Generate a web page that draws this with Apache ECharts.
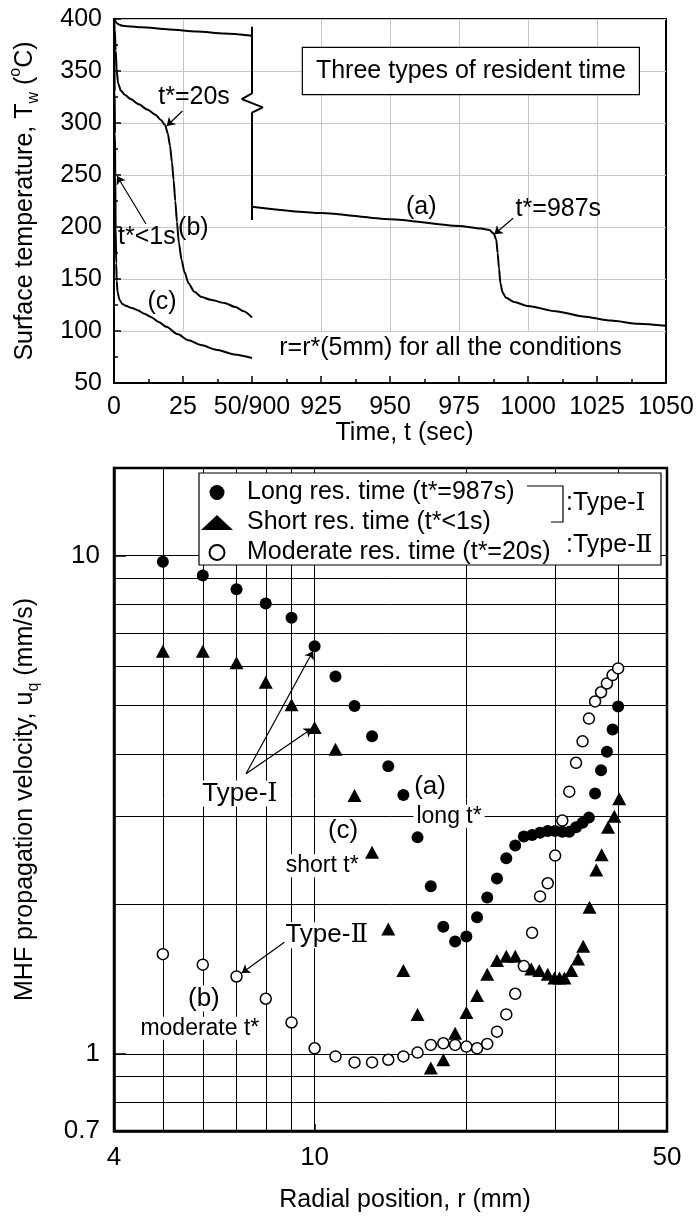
<!DOCTYPE html>
<html>
<head>
<meta charset="utf-8">
<script src="https://cdn.jsdelivr.net/npm/echarts@6.0.0/dist/echarts.min.js"></script>
<style>
html,body{margin:0;padding:0;background:#fff;}
#chart{width:699px;height:1218px;}
</style>
</head>
<body>
<div id="chart"></div>
<script>
// ================= TOP PANEL: surface temperature vs time =================
// curve (a): long residence time, left part (0-50 s) and right part (900-1050 s)
const curveA1Time = [0, 0.5, 1, 2, 3, 5, 10, 20, 30, 40, 50];
const curveA1Temp = [400, 398, 396, 394.5, 393.5, 393, 392, 390, 388, 386, 384];
const curveA2Time = [900, 925, 950, 975, 983, 986, 987.5, 988.5, 989, 989.5, 990, 990.8, 992, 995, 1000, 1010, 1020, 1030, 1040, 1050];
const curveA2Temp = [219.5, 213.5, 207.5, 201, 198.5, 197, 194, 188, 175, 160, 146, 137, 132, 128, 124, 119, 114, 110, 107, 105];
// curve (b): moderate residence time
const curveBTime = [0, 0.3, 0.6, 1, 1.5, 2.5, 4, 6, 9, 12, 15, 17, 18.5, 19.5, 20.3, 21, 21.6, 22.2, 22.8, 23.5, 24.5, 25.5, 27, 29, 31.5, 35, 40, 44, 47, 50];
const curveBTemp = [400, 390, 370, 350, 338, 331, 327, 323, 318, 313, 308, 303, 298, 290, 278, 262, 245, 225, 205, 185, 168, 157, 146, 138, 133, 130, 127, 123, 119, 113];
// curve (c): short residence time
const curveCTime = [0, 0.15, 0.25, 0.35, 0.45, 0.6, 0.8, 1, 1.3, 2, 3, 4.5, 6.5, 8.6, 11, 13.4, 16, 19, 23, 27, 31.5, 37, 43.6, 50];
const curveCTemp = [400, 370, 330, 290, 250, 200, 165, 148, 137, 130, 126, 124, 122, 120, 116.5, 113.5, 109, 104, 97, 91, 86.5, 82, 77.5, 74];
// axis-break mark drawn at the 50/900 junction (axis units, temperature)
const breakMarkAxis = [50, 50, 46.3, 53.9, 50, 50];
const breakMarkTemp = [392.6, 328.5, 323, 315, 310, 206.7];
// tick labels of the broken time axis
const topTimeTickLabels = ['0', '25', '50/900', '925', '950', '975', '1000', '1025', '1050'];
const topGridTimes = [25, 925, 950, 975, 1000, 1025];

// ================= BOTTOM PANEL: MHF propagation velocity =================
const rLong = [5, 6, 7, 8, 9, 10, 11, 12, 13, 14, 15, 16, 17, 18, 19, 20, 21, 22, 23, 24, 25, 26, 27, 28, 29, 30, 31, 32, 33, 34, 35, 36, 37, 38, 39, 40];
const vLong = [9.73, 9.13, 8.56, 8.02, 7.51, 6.58, 5.72, 4.99, 4.34, 3.78, 3.31, 2.72, 2.17, 1.80, 1.68, 1.72, 1.88, 2.06, 2.25, 2.47, 2.62, 2.73, 2.75, 2.78, 2.80, 2.80, 2.79, 2.79, 2.85, 2.91, 2.98, 3.33, 3.71, 4.04, 4.48, 4.98];
const rShort = [5, 6, 7, 8, 9, 10, 11, 12, 13, 14, 15, 16, 17, 18, 19, 20, 21, 22, 23, 24, 25, 26.9, 27.9, 29.0, 29.9, 30.6, 31.3, 32.3, 33.3, 34.1, 35.1, 36.2, 37.1, 38.2, 39.3, 40.2];
const vShort = [6.43, 6.43, 6.10, 5.57, 5.02, 4.52, 4.09, 3.30, 2.54, 1.78, 1.47, 1.20, 0.937, 0.973, 1.10, 1.21, 1.31, 1.445, 1.54, 1.57, 1.57, 1.48, 1.47, 1.445, 1.42, 1.42, 1.42, 1.47, 1.55, 1.645, 1.97, 2.34, 2.51, 2.85, 3.0, 3.25];
const rMod = [5, 6, 7, 8, 9, 10, 11, 12, 13, 14, 15, 16, 17, 18, 19, 20, 21, 22, 23, 24, 25, 26, 27, 28, 29, 30, 31, 32, 33, 34, 35, 36, 37, 38, 39, 40];
const vMod = [1.585, 1.51, 1.43, 1.29, 1.156, 1.026, 0.988, 0.961, 0.961, 0.973, 0.988, 1.006, 1.042, 1.05, 1.042, 1.034, 1.026, 1.047, 1.108, 1.20, 1.32, 1.50, 1.75, 2.07, 2.20, 2.50, 2.94, 3.36, 3.84, 4.24, 4.71, 5.10, 5.32, 5.54, 5.76, 5.94];
const gridR = [5, 6, 7, 8, 9, 10, 20, 30, 40];
const gridV = [0.8, 0.9, 1, 2, 3, 4, 5, 6, 7, 8, 9, 10];
const seriesNames = ['Long res. time (t*=987s)', 'Short res. time (t*<1s)', 'Moderate res. time (t*=20s)'];

// ================= annotations =================
const topNotes = [
  { text: 't*=20s', t: 29.0, T: 324.5 },
  { text: 't*<1s', t: 11.9, T: 190.7 },
  { text: '(b)', t: 28.75, T: 199 },
  { text: '(c)', t: 17.4, T: 128.2 },
  { text: '(a)', t: 961.3, T: 219.5 },
  { text: 't*=987s', t: 1011, T: 217.3 },
  { text: 'r=r*(5mm) for all the conditions', t: 971.9, T: 83.7 }
];
const topBox = { text: 'Three types of resident time', t: 979.3, T: 350 };
const topArrows = [
  { from: [24.8, 311.5], to: [19.1, 297.1] },
  { from: [11.6, 202.9], to: [1.1, 249] },
  { from: [994.6, 208.4], to: [987.8, 193] }
];
const bottomNotes = [
  { text: 'Type-\u2160', r: 7.11, v: 3.33, big: true },
  { text: '(c)', r: 11.39, v: 2.80, big: true },
  { text: 'short t*', r: 10.35, v: 2.385, big: false },
  { text: '(a)', r: 16.94, v: 3.44, big: true },
  { text: 'long t*', r: 18.48, v: 3.00, big: false },
  { text: '(b)', r: 6.03, v: 1.292, big: true },
  { text: 'moderate t*', r: 5.92, v: 1.126, big: false },
  { text: 'Type-\u2161', r: 10.57, v: 1.731, big: true }
];
const bottomArrows = [
  { from: [7.31, 3.65], to: [9.93, 6.44] },
  { from: [7.31, 3.65], to: [9.88, 4.50] },
  { from: [8.71, 1.675], to: [7.17, 1.453] }
];

// ================= chart =================
const FONT = '"Liberation Sans", Arial, Helvetica, "DejaVu Serif", sans-serif';
const toAxisTime = t => (t <= 50 ? t : t - 850);
const zip = (a, b, f) => a.map((x, i) => [f ? f(x) : x, b[i]]);

const chart = echarts.init(document.getElementById('chart'), null, { renderer: 'canvas', width: 699, height: 1218 });

const lineBase = {
  type: 'line', xAxisIndex: 0, yAxisIndex: 0, showSymbol: false, symbol: 'none',
  smooth: 0.25, smoothMonotone: 'x',
  lineStyle: { color: '#000', width: 2 }, z: 3, silent: true
};
const blackTick = { color: '#000', width: 1.5 };

const option = {
  animation: false,
  backgroundColor: '#fff',
  textStyle: { fontFamily: FONT, color: '#000' },
  grid: [
    { left: 113, top: 19, width: 553, height: 364, show: true, borderColor: '#000', borderWidth: 2, backgroundColor: 'rgba(0,0,0,0)' },
    { left: 114, top: 468, width: 553, height: 670, show: true, borderColor: '#000', borderWidth: 2.5, backgroundColor: 'rgba(0,0,0,0)' }
  ],
  xAxis: [
    {
      gridIndex: 0, type: 'value', min: 0, max: 200, interval: 25,
      axisLine: { show: true, onZero: false, lineStyle: { color: '#000', width: 2 } },
      axisTick: { show: true, inside: true, length: 7, lineStyle: blackTick },
      minorTick: { show: true, splitNumber: 2, length: 4, lineStyle: blackTick },
      axisLabel: { fontSize: 25, color: '#000', margin: 12, fontFamily: FONT,
        formatter: v => topTimeTickLabels[Math.round(v / 25)] },
      splitLine: { show: false },
      name: 'Time, t (sec)', nameLocation: 'middle', nameGap: 27,
      nameTextStyle: { fontSize: 25, color: '#000', fontFamily: FONT, padding: [0, 0, 0, 29] }
    },
    {
      gridIndex: 1, type: 'log', logBase: 10, min: 4, max: 50,
      axisLine: { show: true, onZero: false, lineStyle: { color: '#000', width: 2.5 } },
      axisTick: { show: true, inside: true, length: 7, lineStyle: blackTick },
      axisLabel: { fontSize: 26, color: '#000', margin: 14, fontFamily: FONT, showMinLabel: true, showMaxLabel: true,
        formatter: v => String(+Number(v).toPrecision(3)) },
      splitLine: { show: false },
      name: 'Radial position, r (mm)', nameLocation: 'middle', nameGap: 57,
      nameTextStyle: { fontSize: 25, color: '#000', fontFamily: FONT, padding: [0, 0, 0, 29] }
    }
  ],
  yAxis: [
    {
      gridIndex: 0, type: 'value', min: 50, max: 400, interval: 50,
      axisLine: { show: true, onZero: false, lineStyle: { color: '#000', width: 2 } },
      axisTick: { show: true, inside: true, length: 7, lineStyle: blackTick },
      minorTick: { show: true, splitNumber: 2, length: 4, lineStyle: blackTick },
      axisLabel: { fontSize: 25, color: '#000', margin: 12, fontFamily: FONT },
      splitLine: { show: true, lineStyle: { color: '#c8c8c8', width: 1 } },
      name: 'Surface temperature, T{s|w} ({u|o}C)', nameLocation: 'middle', nameGap: 72, nameRotate: 90,
      nameTextStyle: { fontSize: 25, color: '#000', fontFamily: FONT, lineHeight: 34,
        rich: {
          s: { fontSize: 16, lineHeight: 16, verticalAlign: 'bottom', fontFamily: FONT },
          u: { fontSize: 16, lineHeight: 16, verticalAlign: 'top', fontFamily: FONT }
        } }
    },
    {
      gridIndex: 1, type: 'log', logBase: 10, min: 0.7, max: 15,
      axisLine: { show: true, onZero: false, lineStyle: { color: '#000', width: 2.5 } },
      axisTick: { show: true, inside: true, length: 12, lineStyle: blackTick },
      axisLabel: { fontSize: 26, color: '#000', margin: 14, fontFamily: FONT, showMinLabel: true, showMaxLabel: false,
        formatter: v => String(+Number(v).toPrecision(3)) },
      splitLine: { show: false },
      name: 'MHF propagation velocity, u{s|q} (mm/s)', nameLocation: 'middle', nameGap: 72, nameRotate: 90,
      nameTextStyle: { fontSize: 25, color: '#000', fontFamily: FONT, lineHeight: 34,
        rich: {
          s: { fontSize: 16, lineHeight: 16, verticalAlign: 'bottom', fontFamily: FONT }
        } }
    }
  ],
  legend: {
    data: seriesNames, orient: 'vertical', left: 196, top: 473,
    itemWidth: 32, itemHeight: 15, itemGap: 1, selectedMode: false, z: 10,
    textStyle: { fontSize: 25, color: '#000', fontFamily: FONT, lineHeight: 29, padding: [0, 0, 0, 9] }
  },
  graphic: [
    { type: 'rect', shape: { x: 199, y: 473, width: 462, height: 92 }, style: { fill: '#fff', stroke: '#000', lineWidth: 1.2 }, z: 3, silent: true },
    { type: 'polyline', shape: { points: [[527, 486], [563, 486], [563, 522], [551, 522]] }, style: { stroke: '#000', lineWidth: 1.2, fill: null }, z: 11, silent: true },
    { type: 'text', x: 566, y: 503, style: { text: ':Type-\u2160', font: '25px ' + FONT, fill: '#000', textVerticalAlign: 'middle', verticalAlign: 'middle' }, z: 11, silent: true },
    { type: 'text', x: 566, y: 545, style: { text: ':Type-\u2161', font: '25px ' + FONT, fill: '#000', textVerticalAlign: 'middle', verticalAlign: 'middle' }, z: 11, silent: true }
  ],
  series: [
    Object.assign({}, lineBase, { name: 'a1', data: zip(curveA1Time, curveA1Temp, toAxisTime) }),
    Object.assign({}, lineBase, { name: 'a2', data: zip(curveA2Time, curveA2Temp, toAxisTime) }),
    Object.assign({}, lineBase, { name: 'b', data: zip(curveBTime, curveBTemp, toAxisTime) }),
    Object.assign({}, lineBase, { name: 'c', data: zip(curveCTime, curveCTemp, toAxisTime) }),
    Object.assign({}, lineBase, {
      name: 'break', smooth: false, data: zip(breakMarkAxis, breakMarkTemp),
      markLine: {
        silent: true, symbol: 'none', z: 1, label: { show: false },
        lineStyle: { color: '#c8c8c8', width: 1, type: 'solid' },
        data: topGridTimes.map(t => [{ coord: [toAxisTime(t), 100] }, { coord: [toAxisTime(t), 400] }])
      }
    }),
    {
      type: 'scatter', xAxisIndex: 0, yAxisIndex: 0, symbolSize: 0, z: 6, silent: true,
      itemStyle: { opacity: 1 },
      data: topNotes.map(n => ({ value: [toAxisTime(n.t), n.T] })),
      label: { show: true, position: 'inside', color: '#000', fontSize: 25, fontFamily: FONT,
        formatter: p => topNotes[p.dataIndex].text }
    },
    {
      type: 'scatter', xAxisIndex: 0, yAxisIndex: 0, symbolSize: 0, z: 6, silent: true,
      itemStyle: { opacity: 1 },
      data: [[toAxisTime(topBox.t), topBox.T]],
      label: { show: true, position: 'inside', color: '#000', fontSize: 25, fontFamily: FONT, lineHeight: 28,
        backgroundColor: '#fff', borderColor: '#000', borderWidth: 1.2, padding: [9, 13, 9, 13],
        formatter: () => topBox.text }
    },
    {
      type: 'lines', coordinateSystem: 'cartesian2d', xAxisIndex: 0, yAxisIndex: 0, z: 6, silent: true,
      symbol: ['none', 'arrow'], symbolSize: 8,
      lineStyle: { color: '#000', width: 1.2, opacity: 1, curveness: 0 },
      data: topArrows.map(a => ({ coords: [[toAxisTime(a.from[0]), a.from[1]], [toAxisTime(a.to[0]), a.to[1]]] }))
    },
    {
      name: seriesNames[0], type: 'scatter', xAxisIndex: 1, yAxisIndex: 1,
      symbol: 'circle', symbolSize: 12, itemStyle: { color: '#000', opacity: 1 }, z: 4,
      data: zip(rLong, vLong),
      markLine: {
        silent: true, symbol: 'none', z: 1, label: { show: false }, animation: false,
        lineStyle: { color: '#000', width: 1, type: 'solid', opacity: 1 },
        data: gridR.map(r => ({ xAxis: r })).concat(gridV.map(v => ({ yAxis: v })))
      }
    },
    {
      name: seriesNames[1], type: 'scatter', xAxisIndex: 1, yAxisIndex: 1,
      symbol: 'triangle', symbolSize: [14, 13], itemStyle: { color: '#000', opacity: 1 }, z: 4,
      data: zip(rShort, vShort)
    },
    {
      name: seriesNames[2], type: 'scatter', xAxisIndex: 1, yAxisIndex: 1,
      symbol: 'circle', symbolSize: 11, itemStyle: { color: '#fff', borderColor: '#000', borderWidth: 1.5, opacity: 1 }, z: 5,
      data: zip(rMod, vMod)
    },
    {
      type: 'scatter', xAxisIndex: 1, yAxisIndex: 1, symbolSize: 0, z: 3, silent: true,
      itemStyle: { opacity: 1 },
      data: bottomNotes.map(n => ({ value: [n.r, n.v], label: { fontSize: n.big ? 26 : 23 } })),
      label: { show: true, position: 'inside', color: '#000', fontFamily: FONT, backgroundColor: '#fff', padding: [0, 3],
        formatter: p => bottomNotes[p.dataIndex].text }
    },
    {
      type: 'lines', coordinateSystem: 'cartesian2d', xAxisIndex: 1, yAxisIndex: 1, z: 6, silent: true,
      symbol: ['none', 'arrow'], symbolSize: 8,
      lineStyle: { color: '#000', width: 1.2, opacity: 1, curveness: 0 },
      data: bottomArrows.map(a => ({ coords: [a.from, a.to] }))
    }
  ]
};
chart.setOption(option);
</script>
</body>
</html>
